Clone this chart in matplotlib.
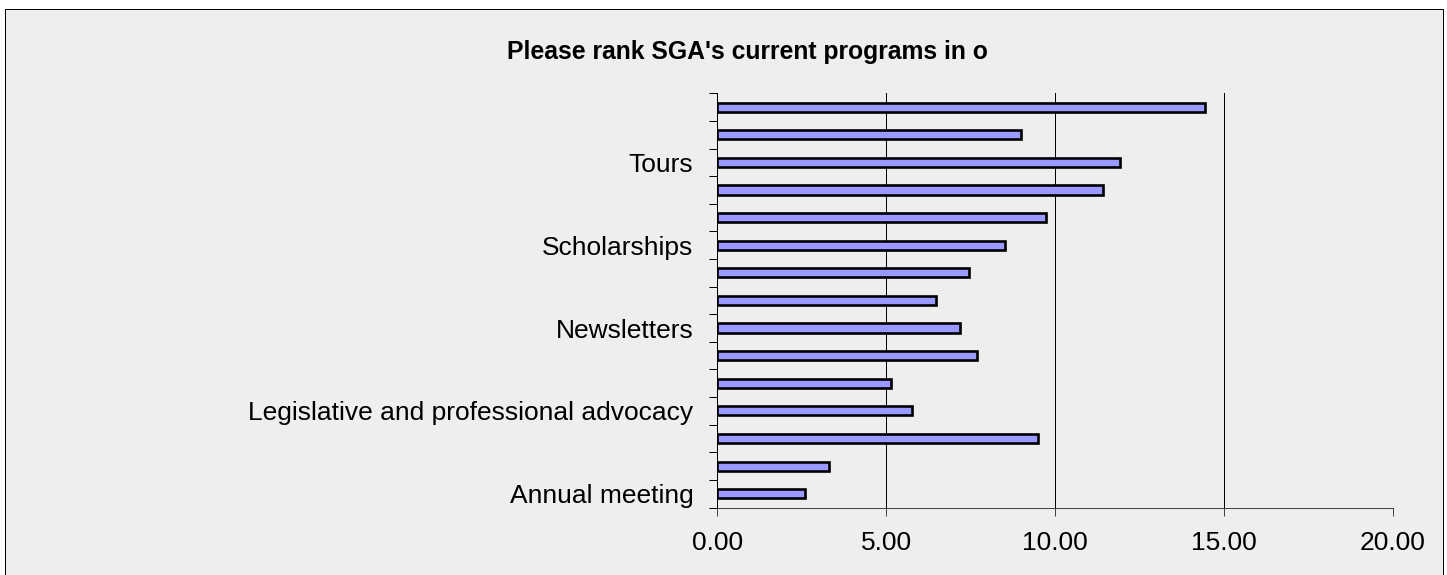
import matplotlib
matplotlib.use("Agg")
import matplotlib.pyplot as plt
from matplotlib.patches import Rectangle
import numpy as np

# Rows listed bottom to top; only every third row carries a printed label
categories = [
    "Annual meeting", "", "",
    "Legislative and professional advocacy", "", "",
    "Newsletters", "", "",
    "Scholarships", "", "",
    "Tours", "", "",
]
values = [2.59, 3.32, 9.48, 5.76, 5.15, 7.68, 7.18, 6.48,
          7.45, 8.52, 9.74, 11.43, 11.91, 8.99, 14.44]
x_ticks = [0, 5, 10, 15, 20]
x_tick_labels = ["0.00", "5.00", "10.00", "15.00", "20.00"]
title = "Please rank SGA's current programs in o"

W, H, DPI = 1447, 575, 100
PX = 72 / DPI  # points per pixel

plt.rcParams["font.family"] = ["Liberation Sans", "DejaVu Sans"]

fig = plt.figure(figsize=(W / DPI, H / DPI), dpi=DPI, facecolor="white")

# chart area panel with thin dark frame, kept behind the axes
panel_color = "#EEEEEE"
fig.patches.append(Rectangle((5 / W, 1 - 600 / H), (1443 - 5) / W, (600 - 9) / H,
                             transform=fig.transFigure, facecolor=panel_color,
                             edgecolor="black", linewidth=1 * PX, zorder=-5))

left, right, top, bottom = 717.3, 1393.0, 93.3, 507.5
ax = fig.add_axes([left / W, 1 - bottom / H, (right - left) / W, (bottom - top) / H])
ax.set_zorder(1)
ax.set_facecolor(panel_color)

y = np.arange(len(values))
ax.barh(y, values, height=0.33, color="#9999FF", edgecolor="black",
        linewidth=1.9, zorder=3)

ax.set_xlim(0, 20)
ax.set_ylim(-0.5, len(values) - 0.5)

# vertical gridlines
for xv in x_ticks[1:]:
    ax.axvline(xv, color="black", linewidth=1 * PX, zorder=1)

# x axis
ax.set_xticks(x_ticks)
ax.set_xticklabels(x_tick_labels, fontsize=19)
ax.tick_params(axis="x", direction="out", length=7.5 * PX, width=1 * PX,
               color="#444444", pad=15.5 * PX)

# y axis: tick marks at row boundaries, labels at row centres
ax.set_yticks(np.arange(len(values) + 1) - 0.5)
ax.set_yticklabels([])
ax.tick_params(axis="y", which="major", direction="out", length=8 * PX,
               width=1 * PX, color="black")
label_rows = [i for i, c in enumerate(categories) if c]
ax.set_yticks(label_rows, minor=True)
ax.set_yticklabels([categories[i] for i in label_rows], minor=True, fontsize=19)
ax.tick_params(axis="y", which="minor", length=0, pad=24 * PX)

for side in ("top", "right"):
    ax.spines[side].set_visible(False)
ax.spines["left"].set_color("black")
ax.spines["left"].set_linewidth(1 * PX)
ax.spines["bottom"].set_color("#444444")
ax.spines["bottom"].set_linewidth(1 * PX)
ax.spines["left"].set_zorder(4)

fig.text(506.7 / W, 1 - 59.3 / H, title, fontsize=17.8, fontweight="bold",
         ha="left", va="baseline")

fig.savefig("out.png", dpi=DPI, facecolor="white")
